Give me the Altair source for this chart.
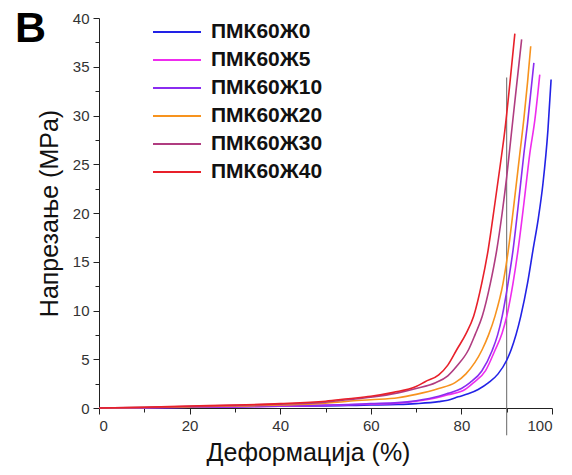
import altair as alt
import pandas as pd

series = ["ПМК60Ж0", "ПМК60Ж5", "ПМК60Ж10", "ПМК60Ж20", "ПМК60Ж30", "ПМК60Ж40"]
colors = ["#2222e6", "#ee2cee", "#8a2cf0", "#f7931e", "#b03c80", "#e8202a"]

# Ж0 (blue)
x0 = [0, 10, 20, 30, 40, 50, 55, 60, 66, 70, 75, 77, 79.3, 81.5, 83.7, 86, 88.1, 90, 91, 93.1, 94.6, 95.8, 97, 98, 99.1, 99.8]
y0 = [0, 0.03, 0.07, 0.12, 0.18, 0.22, 0.26, 0.3, 0.36, 0.45, 0.65, 0.8, 1.15, 1.45, 1.9, 2.6, 3.5, 4.9, 6.0, 9.4, 12.8, 16.2, 19.5, 23, 28.5, 33.7]
# Ж5 (magenta)
x5 = [0, 10, 20, 30, 40, 50, 55, 60, 66, 70, 75, 77, 80.8, 82.7, 85.3, 87.4, 89, 90, 91.4, 92.5, 93.8, 95.1, 96.2, 97.3]
y5 = [0, 0.03, 0.07, 0.12, 0.18, 0.27, 0.33, 0.4, 0.5, 0.7, 1.1, 1.35, 1.9, 2.6, 3.8, 5.9, 7.7, 9.4, 12.8, 16.2, 21, 26.1, 29.5, 34.2]
# Ж10 (purple)
x10 = [0, 10, 20, 30, 40, 50, 55, 60, 66, 70, 75, 77, 80, 81.9, 84.5, 86.8, 88, 89, 90.3, 91.4, 92.6, 93.8, 94.6, 96.0]
y10 = [0, 0.03, 0.08, 0.13, 0.2, 0.3, 0.36, 0.45, 0.55, 0.75, 1.2, 1.5, 2.0, 2.6, 3.8, 5.9, 7.5, 9.4, 12.8, 16.2, 21, 26.1, 29.2, 35.4]
# Ж20 (orange)
x20 = [0, 10, 20, 30, 40, 50, 55, 60, 66, 70, 75, 78.6, 81, 84.6, 86, 87.4, 89.2, 90.3, 91.5, 92.9, 93.8, 94.6, 95.3]
y20 = [0, 0.05, 0.12, 0.2, 0.3, 0.5, 0.7, 0.85, 1.05, 1.4, 2.0, 2.6, 3.5, 6.0, 7.5, 9.4, 12.8, 16, 20.5, 26.1, 29.7, 33.4, 37.1]
# Ж30 (dark magenta)
x30 = [0, 10, 20, 30, 40, 50, 55, 60, 66, 70, 74.3, 77, 79, 81.6, 83, 84.6, 86.4, 87.8, 89, 90, 91, 92, 93.3]
y30 = [0, 0.07, 0.17, 0.27, 0.4, 0.6, 0.85, 1.1, 1.55, 2.0, 2.6, 3.3, 4.3, 6.0, 7.5, 9.4, 12.8, 16.2, 20, 23.7, 28, 32.3, 37.8]
# Ж40 (red)
x40 = [0, 10, 20, 30, 40, 50, 55, 60, 65, 70, 72, 75, 77, 79, 81, 82.7, 84.5, 85.9, 87.4, 88.6, 89.6, 90.7, 91.8]
y40 = [0, 0.08, 0.2, 0.3, 0.45, 0.7, 0.95, 1.2, 1.6, 2.2, 2.7, 3.4, 4.4, 6.0, 7.6, 9.4, 12.8, 16.2, 21, 25, 28.5, 33.3, 38.4]

xs = [x0, x5, x10, x20, x30, x40]
ys = [y0, y5, y10, y20, y30, y40]

rows = []
for s, xv, yv in zip(series, xs, ys):
    for i, (a, b) in enumerate(zip(xv, yv)):
        rows.append({"series": s, "x": a, "y": b, "i": i})
df = pd.DataFrame(rows)

marker_x = 90
marker_y = [-2.8, 33.9]
panel_label = "B"

FONT = "Liberation Sans"

xscale = alt.Scale(domain=[0, 100], nice=False)
yscale = alt.Scale(domain=[0, 40], nice=False)

lines = alt.Chart(df).mark_line(strokeWidth=1.6, interpolate="monotone").encode(
    x=alt.X("x:Q", scale=xscale, axis=alt.Axis(
        values=[0, 20, 40, 60, 80, 100], orient="bottom", title="Деформација (%)",
        tickSize=6, tickColor="#222", domainColor="#222", grid=False,
        labelFont=FONT, labelFontSize=15, labelColor="#333", labelPadding=4,
        titleFont=FONT, titleFontSize=25, titleFontWeight="normal", titleColor="#111",
        titlePadding=7, titleX=209, titleAlign="center")),
    y=alt.Y("y:Q", scale=yscale, axis=alt.Axis(
        values=[0, 5, 10, 15, 20, 25, 30, 35, 40], orient="left", title="Напрезање (MPa)",
        tickSize=6, tickColor="#222", domainColor="#222", grid=False,
        labelFont=FONT, labelFontSize=15, labelColor="#333", labelPadding=4,
        titleFont=FONT, titleFontSize=25, titleFontWeight="normal", titleColor="#111",
        titlePadding=10)),
    color=alt.Color("series:N", scale=alt.Scale(domain=series, range=colors),
                    sort=series,
                    legend=alt.Legend(
                        orient="none", legendX=65, legendY=1, title=None,
                        symbolType="M-2,0L2,0", symbolSize=576, symbolStrokeWidth=2,
                        rowPadding=5, labelOffset=21, padding=0,
                        labelFont=FONT, labelFontSize=21, labelFontWeight="bold",
                        labelColor="#111")),
    order="i:Q",
    detail="series:N",
)

marker = alt.Chart(pd.DataFrame({"a": [0]})).mark_rule(
    color="#666", strokeWidth=1, clip=False
).encode(
    x=alt.X("mx:Q", scale=xscale, axis=alt.Axis(
        values=[10, 30, 50, 70, 90], orient="bottom", labels=False, domain=False,
        tickSize=4, tickColor="#222", grid=False, title="")),
    y=alt.Y("my0:Q", scale=yscale, axis=alt.Axis(
        values=[2.5, 7.5, 12.5, 17.5, 22.5, 27.5, 32.5, 37.5], orient="left",
        labels=False, domain=False, tickSize=4, tickColor="#222", grid=False, title="")),
    y2="my1:Q",
).transform_calculate(
    mx=str(marker_x), my0=str(marker_y[0]), my1=str(marker_y[1])
)

label = alt.Chart(pd.DataFrame({"t": [panel_label]})).mark_text(
    font=FONT, fontSize=43, fontWeight="bold", color="#000",
    align="left", baseline="alphabetic", clip=False
).encode(text="t:N", x=alt.value(-84), y=alt.value(24))

chart = alt.layer(marker, lines, label).resolve_axis(x="independent", y="independent").properties(
    width=453, height=390,
    autosize=alt.AutoSizeParams(type="none"),
    padding={"left": 91, "top": 10, "right": 12, "bottom": 58},
).configure_view(stroke=None)

chart.save("out.html", embed_options={"renderer": "svg", "actions": False})
